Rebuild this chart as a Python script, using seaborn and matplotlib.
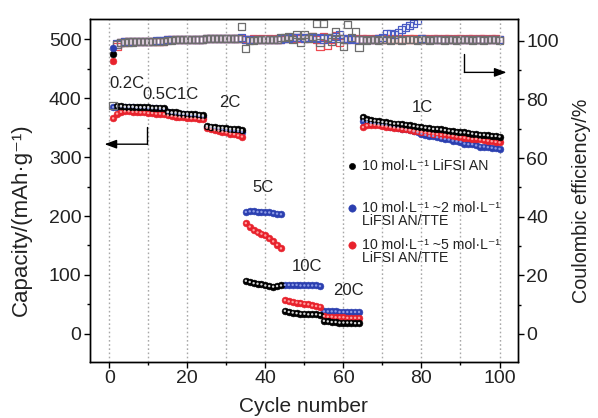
import matplotlib
matplotlib.use("Agg")
import matplotlib.pyplot as plt
import seaborn as sns
import pandas as pd
from matplotlib.ticker import MultipleLocator

# ---------------- data ----------------
cycles = list(range(1, 101))

cap_an = [388, 387, 387, 386, 386, 386, 385, 385, 385, 385, 384, 384, 384, 383,
          377, 376, 376, 375, 374, 374, 373, 373, 372, 371,
          353, 352, 351, 350, 350, 349, 348, 348, 347, 346,
          90, 88, 86, 85, 84, 82, 81, 80, 81, 82,
          39, 37, 36, 35, 34, 34, 33, 33, 33, 32,
          22, 21, 20, 20, 19, 19, 19, 19, 18, 18,
          368, 364, 363, 362, 361, 360, 359, 358, 357, 357, 356, 355, 354, 353, 352, 351, 350, 349,
          348, 348, 347, 346, 345, 344, 343, 342, 342, 341, 340, 339, 338, 338, 337, 336, 336, 335]

cap_tte2 = [385, 386, 386, 385, 385, 385, 384, 384, 384, 383, 383, 383, 382, 382,
            376, 375, 374, 373, 373, 372, 371, 371, 370, 369,
            351, 350, 349, 348, 347, 346, 345, 345, 344, 343,
            207, 208, 208, 207, 207, 206, 206, 205, 204, 203,
            83, 83, 83, 83, 82, 82, 82, 82, 82, 81,
            38, 38, 38, 38, 37, 37, 37, 37, 37, 37,
            362, 360, 358, 357, 356, 355, 354, 352, 351, 350, 348, 347, 346, 344, 342, 340, 338, 336,
            336, 334, 332, 331, 330, 328, 327, 326, 323, 322, 322, 320, 318, 318, 317, 316, 315, 314]

cap_tte5 = [366, 374, 377, 378, 378, 377, 377, 376, 376, 375, 375, 374, 374, 373,
            371, 370, 369, 368, 368, 367, 366, 366, 365, 364,
            350, 348, 346, 345, 343, 342, 340, 339, 337, 335,
            188, 182, 176, 172, 170, 167, 162, 157, 151, 145,
            57, 55, 54, 53, 52, 51, 50, 48, 47, 46,
            30, 29, 29, 28, 28, 28, 27, 27, 27, 27,
            351, 354, 355, 355, 354, 353, 352, 351, 350, 349, 348, 347, 346, 345, 344, 343, 342, 341,
            340, 339, 338, 338, 337, 336, 335, 334, 333, 332, 331, 331, 330, 329, 328, 327, 326, 325]

ce_an = [95.5, 98.6, 99.3, 99.5, 99.6, 99.6, 99.7, 99.7, 99.7, 99.7, 99.7, 99.8, 99.8, 99.8,
         100.2, 100.2, 100.3, 100.3, 100.3, 100.3, 100.3, 100.3, 100.4, 100.4,
         100.7, 100.8, 100.8, 100.8, 100.8, 100.9, 100.9, 100.9, 100.9, 105.0,
         97.5, 100.0, 100.2, 100.3, 100.3, 100.4, 100.4, 100.4, 100.5, 101.0,
         101.0, 101.4, 100.5, 102.0, 99.5, 102.0, 100.8, 101.5, 106.0, 99.5,
         105.8, 101.0, 99.7, 103.0, 100.8, 98.0, 105.5, 101.0, 103.0, 97.6,
         100.3, 100.2, 100.3, 100.3, 100.2, 100.3, 100.3, 100.2, 100.3, 100.3, 100.2, 100.3,
         100.3, 100.3, 100.2, 100.3, 100.3, 100.2, 100.3, 100.3, 100.3, 100.2, 100.3, 100.3,
         100.2, 100.3, 100.3, 100.3, 100.2, 100.3, 100.3, 100.2, 100.3, 100.3, 100.3, 100.2]

ce_tte2 = [97.5, 98.9, 99.5, 99.7, 99.8, 99.8, 99.9, 99.9, 99.9, 99.9, 99.9, 100.0, 100.0, 100.0,
           100.3, 100.3, 100.4, 100.4, 100.4, 100.4, 100.4, 100.4, 100.4, 100.4,
           100.8, 100.8, 100.9, 100.9, 100.9, 100.9, 100.9, 100.9, 100.9, 101.0,
           100.4, 100.4, 100.4, 100.5, 100.5, 100.5, 100.5, 100.5, 100.5, 100.6,
           100.9, 100.9, 101.0, 101.0, 101.1, 100.9, 101.0, 101.2, 100.8, 101.0,
           100.6, 101.2, 100.9, 101.5, 102.0, 100.8, 100.5, 100.7, 100.4, 100.3,
           100.4, 100.4, 100.5, 100.5, 100.6, 101.0, 102.5, 102.6, 102.1, 102.9, 103.9, 104.4,
           105.2, 105.9, 106.8, 100.8, 100.5, 100.4, 100.4, 100.5, 100.4, 100.5, 100.4, 100.5,
           100.4, 100.5, 100.4, 100.5, 100.4, 100.5, 100.4, 100.5, 100.4, 100.5, 100.4, 100.5]

ce_tte5 = [93.0, 98.2, 99.3, 99.6, 99.7, 99.8, 99.8, 99.8, 99.9, 99.9, 99.9, 99.9, 99.9, 99.9,
           100.3, 100.3, 100.4, 100.3, 100.4, 100.3, 100.4, 100.3, 100.4, 100.3,
           100.8, 100.8, 100.9, 100.8, 100.9, 100.8, 100.9, 100.8, 100.9, 100.8,
           100.5, 100.5, 100.6, 100.5, 100.6, 100.5, 100.6, 100.5, 100.6, 100.5,
           100.8, 101.0, 100.9, 101.2, 100.9, 101.0, 100.7, 101.3, 100.5, 98.0,
           101.5, 98.5, 100.6, 101.8, 99.5, 100.8, 100.3, 100.9, 100.6, 100.5,
           100.6, 100.6, 100.5, 100.6, 100.6, 100.5, 100.6, 100.6, 100.5, 100.6, 100.6, 100.5,
           100.6, 100.6, 100.5, 100.6, 100.6, 100.5, 100.6, 100.6, 100.5, 100.6, 100.6, 100.5,
           100.6, 100.6, 100.5, 100.6, 100.6, 100.5, 100.6, 100.6, 100.5, 100.6, 100.6, 100.5]

rate_labels = ["0.2C", "0.5C1C", "2C", "5C", "10C", "20C", "1C"]
rate_label_x = [4.6, 15.7, 31.0, 39.5, 50.8, 61.3, 80.3]
rate_label_y = [425, 407, 393, 249, 115, 73, 385]

legend_labels = ["10 mol\u00b7L\u207b\u00b9 LiFSI AN",
                 "10 mol\u00b7L\u207b\u00b9 ~2 mol\u00b7L\u207b\u00b9\nLiFSI AN/TTE",
                 "10 mol\u00b7L\u207b\u00b9 ~5 mol\u00b7L\u207b\u00b9\nLiFSI AN/TTE"]

# ---------------- style ----------------
sns.set_theme(style="ticks")
plt.rcParams["font.family"] = ["Liberation Sans", "DejaVu Sans"]
plt.rcParams["axes.linewidth"] = 1.0

C_BLACK = "#000000"
C_BLUE = "#2b3fb0"
C_RED = "#e8222c"
HL = {C_BLACK: "#d8d8d8", C_BLUE: "#8d9be6", C_RED: "#ffa0a0"}
SQ = {C_BLACK: "#6e6e6e", C_BLUE: "#4a5cc4", C_RED: "#ee4a50"}
TXT = "#222222"

fig = plt.figure(figsize=(5.98, 4.18), dpi=100)
ax = fig.add_axes([0.150, 0.134, 0.716, 0.821])
ax2 = ax.twinx()
ax.set_zorder(ax2.get_zorder() + 1)
ax.patch.set_visible(False)

df = pd.DataFrame({"cycle": cycles, "an": cap_an, "tte2": cap_tte2, "tte5": cap_tte5,
                   "ce_an": ce_an, "ce_tte2": ce_tte2, "ce_tte5": ce_tte5})

# Coulombic efficiency (right axis), open squares (first cycle as filled dots)
for col, c in [("ce_tte5", C_RED), ("ce_tte2", C_BLUE), ("ce_an", C_BLACK)]:
    sns.scatterplot(data=df[df["cycle"] > 1], x="cycle", y=col, ax=ax2, marker="s", s=26,
                    facecolor="none", edgecolor=SQ[c], linewidth=0.9, zorder=3, legend=False)
for col, c in [("ce_tte5", C_RED), ("ce_an", C_BLACK), ("ce_tte2", C_BLUE)]:
    sns.scatterplot(data=df[df["cycle"] == 1], x="cycle", y=col, ax=ax2, marker="o", s=24,
                    color=c, edgecolor=c, linewidth=0.4, zorder=4, legend=False)

# Capacity (left axis), filled spheres
for col, c in [("tte2", C_BLUE), ("tte5", C_RED), ("an", C_BLACK)]:
    sub = df if col != "an" else df[df["cycle"] > 1]
    sns.scatterplot(data=sub, x="cycle", y=col, ax=ax, marker="o", s=24,
                    color=c, edgecolor=c, linewidth=0.4, zorder=4, legend=False)
    sns.scatterplot(data=sub, x="cycle", y=col, ax=ax, marker="o", s=3,
                    color=HL[c], edgecolor="none", linewidth=0, zorder=5, legend=False)
# first cycle of AN shown as open square
sns.scatterplot(data=df[df["cycle"] == 1], x="cycle", y="an", ax=ax, marker="s", s=30,
                facecolor="none", edgecolor=SQ[C_BLACK], linewidth=0.9, zorder=6, legend=False)

# axes limits / ticks
ax.set_xlim(-5, 104.7)
ax.set_ylim(-48, 535)
ax2.set_ylim(-9.6, 107.5)
ax.xaxis.set_major_locator(MultipleLocator(20))
ax.xaxis.set_minor_locator(MultipleLocator(10))
ax.yaxis.set_major_locator(MultipleLocator(100))
ax.yaxis.set_minor_locator(MultipleLocator(50))
ax2.yaxis.set_major_locator(MultipleLocator(20))
ax2.yaxis.set_minor_locator(MultipleLocator(10))
for a in (ax, ax2):
    a.tick_params(which="major", direction="out", length=4, width=1, labelsize=14,
                  colors="black", labelcolor=TXT, pad=2)
    a.tick_params(which="minor", direction="out", length=2.5, width=1, colors="black")
    for s in a.spines.values():
        s.set_color("black")
        s.set_linewidth(1.0)
ax.tick_params(axis="x", which="both", top=False)

# vertical dotted grid
for gx in range(0, 101, 10):
    ax.axvline(gx, color="#a8a8a8", linestyle=(0, (1.2, 1.8)), linewidth=1.0, zorder=0)

ax.set_xlabel("Cycle number", fontsize=15, color=TXT)
ax.set_ylabel("Capacity/(mAh\u00b7g\u207b\u00b9)", fontsize=16, color=TXT)
ax2.set_ylabel("Coulombic efficiency/%", fontsize=14.2, color=TXT, rotation=90)
ax.xaxis.set_label_coords(0.5, -0.102)
ax.yaxis.set_label_coords(-0.135, 0.414)
ax2.yaxis.set_label_coords(1.126, 0.469)

# rate labels
for t, x, y in zip(rate_labels, rate_label_x, rate_label_y):
    ax.text(x, y, t, fontsize=12, ha="center", va="center", color=TXT, zorder=7)

# axis-indicating arrows
ax.plot([9.7, 9.7], [351, 322], color="black", lw=1.0, zorder=7)
ax.annotate("", xy=(-1.2, 322), xytext=(9.7, 322),
            arrowprops=dict(arrowstyle="-|>,head_length=0.6,head_width=0.22", color="black", lw=1.0,
                            shrinkA=0, shrinkB=0), zorder=7)
ax.plot([91, 91], [476, 444], color="black", lw=1.0, zorder=7)
ax.annotate("", xy=(101.8, 444), xytext=(91, 444),
            arrowprops=dict(arrowstyle="-|>,head_length=0.6,head_width=0.22", color="black", lw=1.0,
                            shrinkA=0, shrinkB=0), zorder=7)

# custom legend
leg_x = [62.3, 62.3, 62.3]
leg_y = [285, 213.6, 151]
leg_df = pd.DataFrame({"x": leg_x, "y": leg_y})
for i, c in enumerate([C_BLACK, C_BLUE, C_RED]):
    sns.scatterplot(data=leg_df.iloc[[i]], x="x", y="y", ax=ax, marker="o",
                    s=20 if i == 0 else 28, color=c, edgecolor=c, linewidth=0.4, zorder=7, legend=False)
    for j, ln in enumerate(legend_labels[i].split("\n")):
        ax.text(64.8, leg_y[i] - j * 22, ln, fontsize=10.2, ha="left", va="center",
                color=TXT, zorder=7)

fig.savefig("out.png", dpi=100)
